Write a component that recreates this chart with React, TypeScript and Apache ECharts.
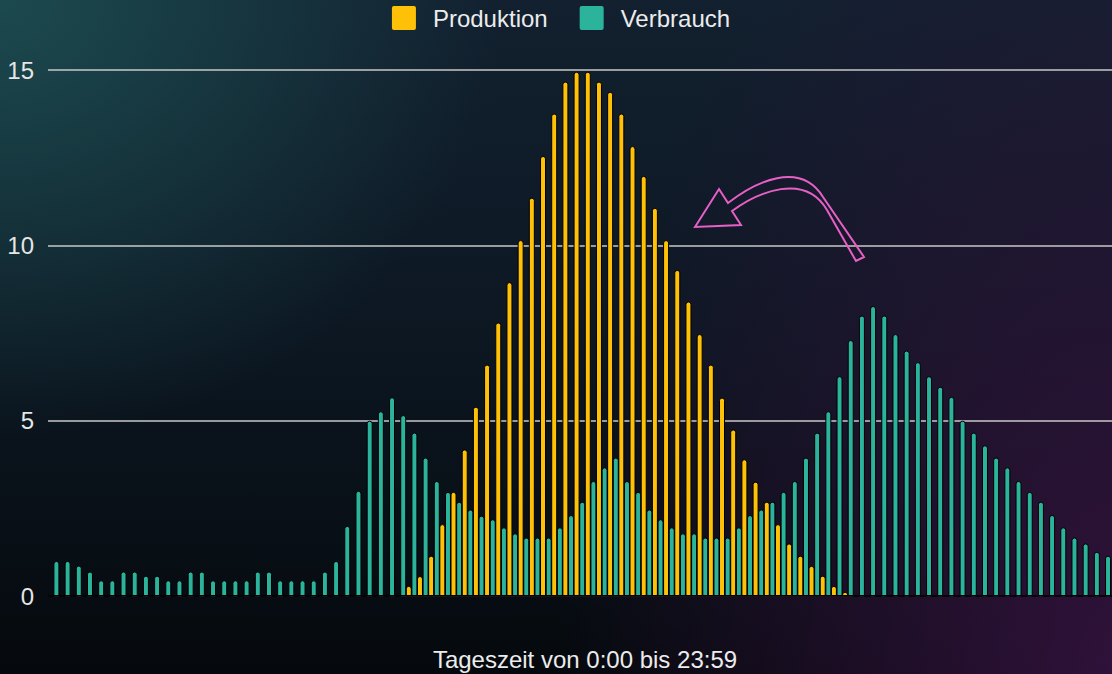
import React, { useEffect, useRef } from 'react';
import * as echarts from 'echarts';

// quarter-hour slots of one day
const categories: string[] = Array.from({ length: 96 }, (_, i) => `${Math.floor(i / 4)}:${String((i % 4) * 15).padStart(2, '0')}`);

const produktion: number[] = [
  0, 0, 0, 0, 0, 0, 0, 0, 0, 0, 0, 0, 0, 0, 0, 0,
  0, 0, 0, 0, 0, 0, 0, 0, 0, 0, 0, 0, 0, 0, 0, 0,
  0.29, 0.57, 1.15, 2.05, 2.97, 4.18, 5.4, 6.6, 7.8, 8.95, 10.15, 11.36, 12.55, 13.76, 14.67, 14.95,
  14.95, 14.67, 14.38, 13.76, 12.83, 11.98, 11.07, 10.15, 9.3, 8.4, 7.47, 6.6, 5.66, 4.75, 3.9, 3.26,
  2.69, 2.05, 1.5, 1.15, 0.86, 0.58, 0.29, 0.12, 0, 0, 0, 0, 0, 0, 0, 0,
  0, 0, 0, 0, 0, 0, 0, 0, 0, 0, 0, 0, 0, 0, 0, 0,
];

const verbrauch: number[] = [
  1.0, 1.0, 0.87, 0.7, 0.45, 0.45, 0.7, 0.7, 0.58, 0.58, 0.45, 0.45, 0.7, 0.7, 0.45, 0.45,
  0.45, 0.45, 0.7, 0.7, 0.45, 0.45, 0.45, 0.45, 0.7, 1.0, 2.0, 3.0, 5.0, 5.27, 5.67, 5.16,
  4.66, 3.95, 3.28, 2.97, 2.69, 2.47, 2.29, 2.19, 1.96, 1.79, 1.67, 1.67, 1.67, 1.96, 2.31, 2.69,
  3.28, 3.67, 3.95, 3.28, 2.97, 2.47, 2.19, 1.96, 1.79, 1.79, 1.67, 1.67, 1.67, 1.96, 2.31, 2.47,
  2.69, 2.97, 3.28, 3.95, 4.66, 5.27, 6.27, 7.3, 8.0, 8.27, 8.0, 7.47, 7.0, 6.67, 6.27, 5.97,
  5.68, 5.0, 4.66, 4.3, 3.95, 3.67, 3.28, 2.97, 2.69, 2.31, 1.96, 1.67, 1.5, 1.26, 1.15, 1.0,
];

const seriesNames = ['Produktion', 'Verbrauch'];
const seriesColors = ['#ffc107', '#2bb39c'];
const yMin = 0;
const yMax = 15;
const yStep = 5;
const axisName = 'Tageszeit von 0:00 bis 23:59';

const arrowPath =
  'M 695 227 L 719 189 L 728 203 C 755 182 800 160 823 197 L 864 257 L 856 261 L 827 210 C 805 172 758 192 732 211 L 741 225 Z';
echarts.graphic.registerShape('curvedArrow', echarts.graphic.extendPath(arrowPath, {}) as any);

const legendIcon = 'path://M2,0 H22 Q24,0 24,2 V22 Q24,24 22,24 H2 Q0,24 0,22 V2 Q0,0 2,0 Z';

const FONT = '"Liberation Sans", Arial, sans-serif';

export default function App() {
  const ref = useRef<HTMLDivElement>(null);
  useEffect(() => {
    document.body.style.margin = '0';
    document.body.style.overflow = 'hidden';
    const chart = echarts.init(ref.current!, null, { renderer: 'svg' });
    chart.setOption({
      animation: false,
      backgroundColor: 'transparent',
      textStyle: { fontFamily: FONT },
      legend: {
        top: 1,
        left: 'center',
        data: seriesNames,
        icon: legendIcon,
        itemWidth: 24,
        itemHeight: 24,
        itemGap: 32,
        itemStyle: { borderWidth: 0 },
        textStyle: { color: '#ececec', fontSize: 24, fontFamily: FONT, padding: [0, 0, 0, 12] },
      },
      grid: { left: 48, right: 0, top: 70, bottom: 78, outerBoundsMode: 'none', containLabel: false },
      xAxis: {
        type: 'category',
        data: categories,
        name: axisName,
        nameLocation: 'middle',
        nameGap: 51,
        nameTextStyle: { color: '#ececec', fontSize: 24, fontFamily: FONT },
        axisLabel: { show: false },
        axisTick: { show: false },
        axisLine: { show: true, lineStyle: { color: '#1e0f1a', width: 1 } },
      },
      yAxis: {
        type: 'value',
        min: yMin,
        max: yMax,
        interval: yStep,
        axisLabel: { color: '#e6e6e6', fontSize: 24, margin: 14, fontFamily: FONT },
        axisLine: { show: false },
        axisTick: { show: false },
        splitLine: { show: true, showMinLine: false, lineStyle: { color: '#c9c9c9', width: 1.5 } },
      },
      series: [
        {
          name: seriesNames[0],
          type: 'bar',
          data: produktion,
          barWidth: 6,
          barGap: '-6%',
          itemStyle: { color: seriesColors[0], borderColor: '#000', borderWidth: 1, borderRadius: [3, 3, 0, 0] },
        },
        {
          name: seriesNames[1],
          type: 'bar',
          data: verbrauch,
          barWidth: 6,
          barGap: '-6%',
          itemStyle: { color: seriesColors[1], borderColor: '#000', borderWidth: 1, borderRadius: [3, 3, 0, 0] },
        },
      ],
      graphic: [
        {
          type: 'curvedArrow',
          x: 0,
          y: 0,
          z: 100,
          style: { fill: 'none', stroke: '#e660c6', lineWidth: 2 },
        },
      ],
    });
    return () => chart.dispose();
  }, []);
  return (
    <div
      ref={ref}
      style={{
        position: 'fixed',
        left: 0,
        top: 0,
        width: 1122,
        height: 674,
        background:
          'radial-gradient(ellipse 45% 65% at 0% 0%, rgba(28,76,80,0.95), rgba(28,76,80,0) 100%),' +
          'radial-gradient(ellipse 50% 130% at 100% 100%, rgba(50,18,60,0.95), rgba(50,18,60,0) 100%),' +
          'linear-gradient(180deg, #12202f 0%, #0c1722 50%, #05090d 100%)',
      }}
    />
  );
}
